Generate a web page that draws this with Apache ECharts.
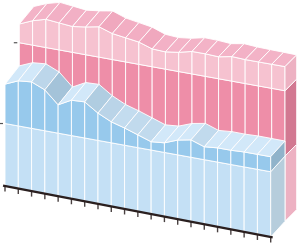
<!DOCTYPE html>
<html><head><meta charset="utf-8">
<script src="https://cdn.jsdelivr.net/npm/echarts@6/dist/echarts.min.js"></script>
<style>html,body{margin:0;padding:0;background:#fff}#c{width:300px;height:243px}</style>
</head><body><div id="c"></div>
<script>
const categories = ['1','2','3','4','5','6','7','8','9','10','11','12','13','14','15','16','17','18','19','20','21'];
const blueValues = [16.3,17.2,17.4,16.5,14.5,15.6,15.7,14.3,13.3,12.7,12.0,11.3,11.5,12.3,12.7,12.0,12.2,12.2,12.3,12.3,12.3];
const pinkValues = [23.0,23.9,24.5,24.3,24.1,24.4,24.8,24.1,23.8,23.5,22.8,22.7,23.0,23.5,23.5,23.4,23.8,23.7,23.7,23.7,23.7];
const gridValues = [10, 20];

const N = categories.length;
const SKEW = 0.192;
const bounds = [0].concat(gridValues, [Infinity]);

function proj(api, i, v, z) {
  const b = api.coord([i, 0]);
  const q = api.coord([i, v]);
  const x0 = api.coord([0, 0])[0];
  const t = i / (N - 1);
  const persp = 0.984 + 0.044 * t;
  let x = b[0];
  let y = b[1] + (b[0] - x0) * SKEW - (b[1] - q[1]) * persp;
  if (z >= 1) { x += 14.3; y += -18.3 + 2.6 * t; }
  if (z >= 2) { x += 14.5 - 2.8 * t; y += -17.5 + 5.8 * t; }
  return [x, y];
}
function mix(a, b, t) {
  return 'rgb(' + a.map((c, k) => Math.round(c + (b[k] - c) * t)).join(',') + ')';
}
const STROKE = 'rgba(255,255,255,0.9)';

function makeSeries(values, z0, pal, zlevel) {
  return {
    type: 'custom', coordinateSystem: 'cartesian2d', silent: true, clip: false,
    data: [[0, 0]], z: zlevel,
    renderItem: function (params, api) {
      const children = [];
      const pt = (c, t, v, z) => {
        const p = proj(api, c, v, z), q = proj(api, c + 1, v, z);
        return [p[0] + (q[0] - p[0]) * t, p[1] + (q[1] - p[1]) * t];
      };
      const poly = (pts, fill) => children.push({
        type: 'polygon', shape: { points: pts },
        style: { fill: fill, stroke: STROKE, lineWidth: 1, lineJoin: 'round' }
      });
      gridValues.forEach(g => {
        if (g < values[0]) {
          const p = proj(api, 0, g, z0);
          children.push({ type: 'line', shape: { x1: p[0] - 5.5, y1: p[1], x2: p[0] - 2, y2: p[1] },
            style: { stroke: '#555', lineWidth: 1.2 } });
        }
      });
      for (let c = 0; c < N - 1; c++) {
        const T0 = values[c], T1 = values[c + 1];
        for (let k = 0; k < bounds.length - 1; k++) {
          const a = bounds[k], b = bounds[k + 1];
          if (Math.max(T0, T1) <= a) continue;
          const ts = [0, 1];
          [a, b].forEach(lv => { if (isFinite(lv) && (T0 - lv) * (T1 - lv) < 0) ts.push((lv - T0) / (T1 - T0)); });
          ts.sort((m, n) => m - n);
          const pts = ts.map(t => {
            const T = T0 + (T1 - T0) * t;
            return pt(c, t, Math.max(a, Math.min(b, T)), z0);
          });
          pts.push(pt(c, 1, a, z0));
          pts.push(pt(c, 0, a, z0));
          poly(pts, k % 2 === 0 ? pal.light : pal.dark);
        }
      }
      for (let c = 0; c < N - 1; c++) {
        const T0 = values[c], T1 = values[c + 1];
        const px = (T1 - T0) * 6.35;
        const s = Math.max(0, Math.min(1, -px / 12));
        poly([proj(api, c, T0, z0), proj(api, c + 1, T1, z0), proj(api, c + 1, T1, z0 + 1), proj(api, c, T0, z0 + 1)],
          mix(pal.topL, pal.topG, s));
      }
      const c = N - 1, T = values[c];
      for (let k = 0; k < bounds.length - 1; k++) {
        const a = bounds[k];
        if (T <= a) continue;
        const u = Math.min(bounds[k + 1], T);
        poly([proj(api, c, a, z0), proj(api, c, u, z0), proj(api, c, u, z0 + 1), proj(api, c, a, z0 + 1)],
          k % 2 === 0 ? pal.sideLight : pal.sideDark);
      }
      return { type: 'group', children: children };
    }
  };
}

const axisSeries = {
  type: 'custom', coordinateSystem: 'cartesian2d', silent: true, clip: false,
  data: [[0, 0]], z: 10,
  renderItem: function (params, api) {
    const children = [];
    const a = proj(api, 0, 0, 0), b = proj(api, N - 1, 0, 0);
    for (let i = 0; i < N; i++) {
      const p = proj(api, i, 0, 0);
      children.push({ type: 'line', shape: { x1: p[0], y1: p[1], x2: p[0], y2: p[1] + 5.5 },
        style: { stroke: '#4a4242', lineWidth: 1.4 } });
    }
    const dx = b[0] - a[0], dy = b[1] - a[1], L = Math.hypot(dx, dy);
    const ex = dx / L * 2, ey = dy / L * 2;
    children.push({ type: 'line', shape: { x1: a[0] - ex, y1: a[1] - ey, x2: b[0] + ex, y2: b[1] + ey },
      style: { stroke: '#2a1f1f', lineWidth: 2.4 } });
    return { type: 'group', children: children };
  }
};

const chart = echarts.init(document.getElementById('c'), null, { renderer: 'canvas' });
chart.setOption({
  animation: false,
  grid: { left: 5, right: 29.3, top: 27.25, bottom: 57 },
  xAxis: { type: 'category', data: categories, boundaryGap: false, show: false },
  yAxis: { type: 'value', min: 0, max: 25, interval: 5, show: false },
  series: [
    makeSeries(pinkValues, 1, {
      light: '#f6c2d0', dark: '#ee8ea8', topL: [243, 179, 199], topG: [236, 150, 176],
      sideLight: '#edb1c2', sideDark: '#d27891'
    }, 1),
    makeSeries(blueValues, 0, {
      light: '#c4e0f5', dark: '#97c9ec', topL: [210, 232, 249], topG: [164, 195, 217],
      sideLight: '#b6cddc', sideDark: '#90b3ca'
    }, 2),
    axisSeries
  ]
});
</script></body></html>
